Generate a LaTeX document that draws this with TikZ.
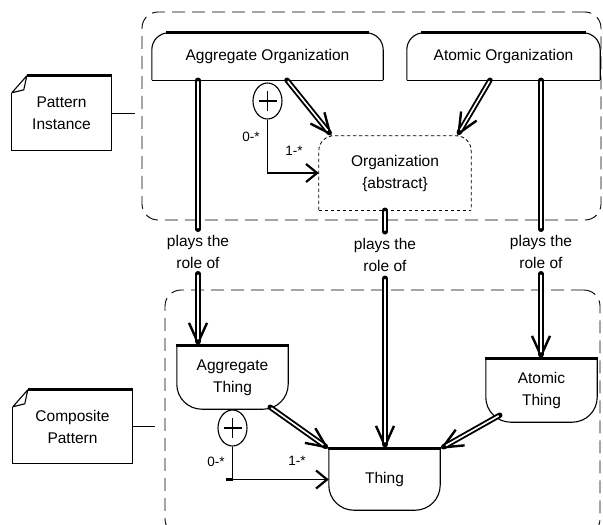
\documentclass[tikz,border=0pt]{standalone}
\usepackage{fontspec}
\setmainfont{Liberation Sans}
\usetikzlibrary{arrows.meta,shapes.geometric}

% outline of a class box with a rounded top and a heavy top edge
\newcommand{\roundtopbox}[1]{%
  \draw[sideline, rounded corners=17pt] (#1.south west) -- (#1.north west) -- (#1.north east) -- (#1.south east);
  \draw[sideline] (#1.south west) -- (#1.south east);
  \draw[topbar] ([xshift=14pt]#1.north west) -- ([xshift=-14pt]#1.north east);
}
% outline of a bowl-shaped role box with a heavy top edge
\newcommand{\bowlbox}[1]{%
  \draw[sideline, rounded corners=25pt] (#1.north west) -- (#1.south west) -- (#1.south east) -- (#1.north east);
  \draw[topbar] ([xshift=-1pt]#1.north west) -- ([xshift=1pt]#1.north east);
}
% outline of a note with a dog-eared corner
\newcommand{\notebox}[1]{%
  \draw[sideline] ([yshift=-17pt]#1.north west) -- (#1.south west) -- (#1.south east) -- (#1.north east);
  \draw[topbar] ([xshift=15pt]#1.north west) -- ([xshift=1pt]#1.north east);
  \draw[sideline, line join=round] ([yshift=-17pt]#1.north west) -- ([xshift=15pt]#1.north west)
        -- ([xshift=12pt,yshift=-14pt]#1.north west) -- cycle;
}

\begin{document}
\begin{tikzpicture}[x=1pt,y=-1pt,
  font=\fontsize{15.5}{22}\selectfont,
  regionbox/.style={draw, line width=0.9pt, dash pattern=on 13pt off 7pt, rounded corners=16pt, inner sep=0pt},
  cbox/.style={inner sep=0pt, align=center},
  sideline/.style={line width=1.1pt},
  topbar/.style={line width=2.8pt},
  orgdash/.style={line width=0.8pt, dash pattern=on 3.5pt off 2.5pt},
  mult/.style={font=\fontsize{13.5}{16}\selectfont, inner sep=0pt},
  rolelabel/.style={align=center, inner sep=0pt, minimum height=44pt},
  plusmark/.style={draw, ellipse, line width=1.1pt, minimum width=29pt, minimum height=36pt, inner sep=0pt},
  crossbar/.style={line width=1.4pt},
  aggline/.style={line width=1.1pt, -{Straight Barb[length=11pt,width=18pt,line width'=2.2pt]}},
  hollowline/.style={line width=5.4pt, line cap=round,
    postaction={draw=white, line width=1.6pt, shorten <=1.6pt, shorten >=1.6pt}},
  hollowarrow/.style={line width=5.4pt, line cap=round,
    -{Straight Barb[length=20pt,width=18pt,line width'=2.4pt]},
    postaction={draw=white, line width=1.6pt, -, shorten <=1.6pt, shorten >=7pt}},
]
\useasboundingbox (0,0) rectangle (603,525);
\clip (0,0) rectangle (603,525);

% pattern regions
\node[regionbox, minimum width=459pt, minimum height=208pt] (instregion) at (371.5,116) {};
\node[regionbox, minimum width=435pt, minimum height=245pt] (compregion) at (382.5,412.5) {};

% notes
\node[cbox, minimum width=99pt, minimum height=74pt] (pinst) at (61.5,113) {Pattern\\Instance};
\node[cbox, minimum width=119pt, minimum height=73pt] (comp) at (72.5,426.5) {Composite\\Pattern};
\notebox{pinst}
\notebox{comp}
\draw[sideline, line width=0.9pt, shorten >=7pt] (pinst.east) -- (pinst.east -| instregion.west);
\draw[sideline, line width=0.9pt, shorten >=10pt] (comp.east) -- (comp.east -| compregion.west);

% pattern instance classes
\node[cbox, minimum width=231pt, minimum height=47pt] (aggorg) at (267.5,56.5) {Aggregate Organization};
\node[cbox, minimum width=193pt, minimum height=47pt] (atomorg) at (503.5,56.5) {Atomic Organization};
\roundtopbox{aggorg}
\roundtopbox{atomorg}
\node[cbox, minimum width=152pt, minimum height=74pt] (org) at (395,173) {Organization\\\{abstract\}};
\draw[orgdash, rounded corners=15pt] (org.south west) -- (org.north west) -- (org.north east) -- (org.south east);
\draw[orgdash] (org.south west) -- (org.south east);

% composite pattern roles
\node[cbox, minimum width=111pt, minimum height=63pt] (aggthing) at (232.5,377.5) {Aggregate\\Thing};
\node[cbox, minimum width=111pt, minimum height=63pt] (atomthing) at (541.5,390.5) {Atomic\\Thing};
\node[cbox, minimum width=111pt, minimum height=61pt] (thing) at (384.5,479.5) {Thing};
\bowlbox{aggthing}
\bowlbox{atomthing}
\bowlbox{thing}

% aggregation markers
\node[plusmark] (plusA) at (267.5,101) {};
\node[plusmark] (plusB) at (232.5,428) {};
\draw[crossbar] ([xshift=-9pt]plusA.center) -- ([xshift=9pt]plusA.center)
                ([yshift=-10pt]plusA.center) -- ([yshift=10pt]plusA.center);
\draw[crossbar] ([xshift=-9pt]plusB.center) -- ([xshift=9pt]plusB.center)
                ([yshift=-10pt]plusB.center) -- ([yshift=10pt]plusB.center);

% multiplicities
\node[mult] (mA0) at (251,137) {0-*};
\node[mult] (mA1) at (294,151) {1-*};
\node[mult] (mB0) at (216,462) {0-*};
\node[mult] (mB1) at (297,461) {1-*};

% aggregation connectors
\draw[aggline] (plusA.south) |- (org.west);
\coordinate (elbowB) at (plusB.south |- thing.west);
\draw[aggline] (plusB.south) |- (thing.west);
\draw[line width=2.2pt] ([xshift=-7pt]elbowB) -- (elbowB);

% generalisations
\draw[hollowarrow] ([xshift=19.5pt]aggorg.south) -- ([xshift=13pt]org.north west);
\draw[hollowarrow] ([xshift=-13.5pt]atomorg.south) -- ([xshift=-14pt]org.north east);
\draw[hollowarrow] ([xshift=-18pt,yshift=2pt]aggthing.south east) -- (thing.north west);
\draw[hollowarrow] ([xshift=14pt,yshift=7pt]atomthing.south west) -- (thing.north east);

% role bindings
\node[rolelabel] (lab1) at (198,251.5) {plays the\\role of};
\node[rolelabel, minimum height=46pt] (lab2) at (385,255) {plays the\\role of};
\node[rolelabel] (lab3) at (541,251.5) {plays the\\role of};
\draw[hollowline] (lab1.north |- aggorg.south) -- (lab1.north);
\draw[hollowarrow] (lab1.south) -- (lab1.south |- aggthing.north);
\draw[hollowline] (lab2.north |- org.south) -- (lab2.north);
\draw[hollowarrow] (lab2.south) -- (lab2.south |- thing.north);
\draw[hollowline] (lab3.north |- atomorg.south) -- (lab3.north);
\draw[hollowarrow] (lab3.south) -- (lab3.south |- atomthing.north);
\end{tikzpicture}
\end{document}
